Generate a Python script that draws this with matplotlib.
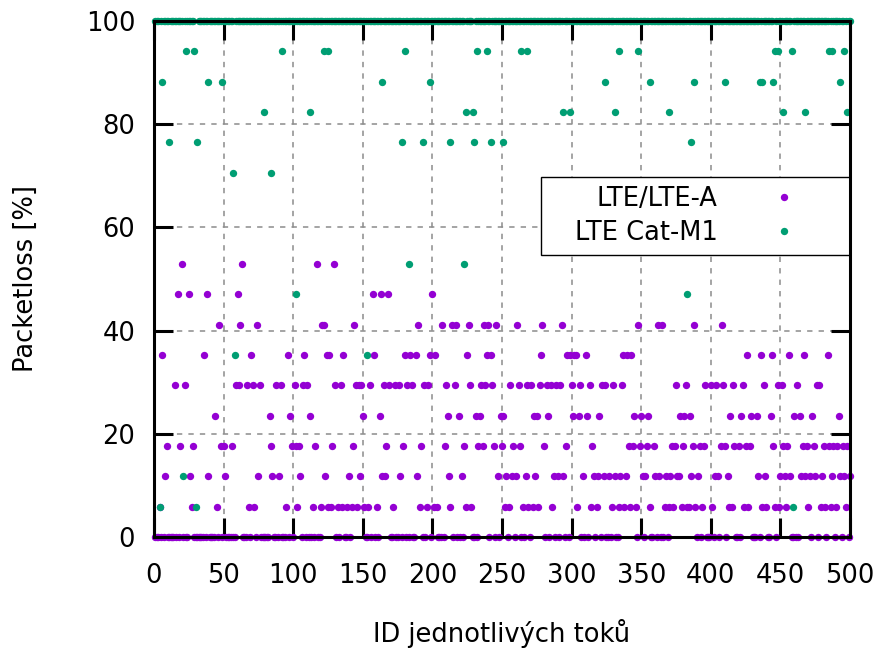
import matplotlib
matplotlib.use('Agg')
import matplotlib.pyplot as plt
import numpy as np
from matplotlib.patches import Rectangle

flow_ids = np.arange(1, 501)

# LTE/LTE-A: flows with non-zero packet loss, grouped by loss level [%]
# (all other flows lost 0 %)
lte_5_88 = [4, 27, 45, 68, 72, 95, 103, 114, 120, 125, 127, 132, 135, 139, 142, 146, 151, 154, 160,
            172, 191, 196, 201, 203, 213, 224, 228, 252, 255, 265, 269, 272, 276, 286, 304, 314, 318,
            329, 334, 338, 342, 346, 356, 367, 370, 373, 379, 383, 384, 389, 394, 401, 413, 415, 424,
            427, 437, 440, 446, 449, 454, 470, 479, 482, 486, 490, 497]
lte_11_76 = [8, 26, 39, 51, 75, 85, 90, 105, 123, 140, 148, 164, 166, 177, 189, 212, 221, 247, 253,
             257, 260, 267, 274, 287, 290, 294, 308, 316, 319, 323, 327, 331, 335, 339, 351, 353, 360,
             363, 368, 371, 376, 377, 386, 391, 403, 405, 412, 434, 439, 450, 453, 457, 465, 468, 471,
             475, 480, 487, 493, 496, 500]
lte_17_65 = [9, 19, 28, 48, 50, 56, 84, 99, 102, 104, 116, 128, 143, 167, 179, 192, 209, 223, 233,
             236, 244, 250, 258, 263, 280, 296, 315, 341, 344, 349, 354, 359, 372, 374, 380, 387, 392,
             395, 407, 410, 417, 420, 425, 428, 445, 452, 455, 466, 469, 474, 481, 485, 488, 491, 495,
             498]
lte_23_53 = [44, 83, 98, 112, 150, 162, 211, 219, 231, 234, 249, 251, 273, 275, 283, 301, 305, 311,
             320, 345, 350, 355, 378, 381, 385, 414, 422, 429, 433, 443, 460, 464, 473, 492]
lte_29_41 = [15, 22, 59, 61, 67, 71, 76, 88, 91, 101, 107, 110, 130, 134, 145, 147, 149, 155, 165,
             169, 173, 176, 182, 185, 194, 197, 210, 216, 227, 235, 238, 243, 256, 262, 268, 271, 277,
             282, 285, 289, 292, 300, 306, 313, 322, 324, 330, 336, 375, 382, 396, 400, 404, 409, 416,
             423, 438, 448, 451, 462, 476, 478]
lte_35_29 = [6, 36, 70, 96, 108, 124, 126, 136, 158, 180, 184, 188, 198, 202, 225, 239, 242, 278,
             297, 299, 302, 303, 310, 337, 340, 343, 426, 436, 444, 456, 467, 484]
lte_41_18 = [47, 62, 74, 121, 122, 144, 190, 207, 214, 217, 226, 237, 240, 246, 261, 279, 293, 348,
             362, 365, 388, 408]
lte_47_06 = [17, 25, 38, 60, 157, 163, 168, 200]
lte_52_94 = [20, 63, 117, 129]

lte_levels = [5.88, 11.76, 17.65, 23.53, 29.41, 35.29, 41.18, 47.06, 52.94]
lte_groups = [lte_5_88, lte_11_76, lte_17_65, lte_23_53, lte_29_41,
              lte_35_29, lte_41_18, lte_47_06, lte_52_94]

# LTE Cat-M1: flows below 100 % packet loss (all other flows lost 100 %)
m1_5_88 = [4, 30, 459]
m1_11_76 = [21]
m1_35_29 = [58, 153]
m1_47_06 = [102, 383]
m1_52_94 = [183, 223]
m1_70_59 = [57, 84]
m1_76_47 = [11, 31, 178, 193, 213, 230, 242, 251, 386]
m1_82_35 = [79, 112, 224, 229, 294, 299, 331, 370, 452, 468, 498]
m1_88_24 = [6, 39, 49, 164, 198, 324, 356, 388, 410, 435, 437, 445, 493]
m1_94_12 = [23, 29, 92, 122, 125, 180, 232, 239, 264, 268, 334, 348, 446, 448, 458, 485, 487, 496]

m1_levels = [5.88, 11.76, 35.29, 47.06, 52.94, 70.59, 76.47, 82.35, 88.24, 94.12]
m1_groups = [m1_5_88, m1_11_76, m1_35_29, m1_47_06, m1_52_94,
             m1_70_59, m1_76_47, m1_82_35, m1_88_24, m1_94_12]

lte_loss = np.zeros(len(flow_ids))
for level, ids in zip(lte_levels, lte_groups):
    lte_loss[np.array(ids) - 1] = level

m1_loss = np.full(len(flow_ids), 100.0)
for level, ids in zip(m1_levels, m1_groups):
    m1_loss[np.array(ids) - 1] = level

purple = '#9400d3'
green = '#009e73'

plt.rcParams['font.family'] = 'DejaVu Sans'
plt.rcParams['font.size'] = 18.5

fig = plt.figure(figsize=(8.78, 6.53), dpi=100)
ax = fig.add_axes([154 / 878, 116 / 653, 696 / 878, 516 / 653])

ax.scatter(flow_ids, lte_loss, s=28, c=purple, linewidths=0, clip_on=False, zorder=2,
           label='LTE/LTE-A')
ax.scatter(flow_ids, m1_loss, s=28, c=green, linewidths=0, clip_on=False, zorder=2,
           label='LTE Cat-M1')

ax.set_xlim(0, 500)
ax.set_ylim(0, 100)
ax.set_xticks(np.arange(0, 501, 50))
ax.set_yticks(np.arange(0, 101, 20))

ax.set_axisbelow(True)
ax.grid(True, color='#8c8c8c', lw=1.1, linestyle=(0, (3.5, 4)))
for sp in ax.spines.values():
    sp.set_linewidth(2.2)
ax.tick_params(direction='in', length=14, width=2.2, top=True, right=True)
ax.tick_params(axis='x', pad=18.5)
ax.tick_params(axis='y', pad=13.5)

ax.set_xlabel('ID jednotlivých toků')
ax.xaxis.set_label_coords(0.5, -0.158)
ax.set_ylabel('Packetloss [%]')
ax.yaxis.set_label_coords(-0.166, 0.5)

# legend frame (sits under the border ticks like gnuplot's key box)
ax.add_patch(Rectangle((0.556, 0.5465), 0.444, 0.1512, transform=ax.transAxes,
                       facecolor='white', edgecolor='black', lw=1.0, zorder=2.4, clip_on=False))
ax.legend(loc='center right', bbox_to_anchor=(0.9425, 0.622), frameon=False, markerfirst=False,
          borderpad=0, borderaxespad=0, handlelength=2, handletextpad=1.6, labelspacing=0.32,
          scatterpoints=1, scatteryoffsets=[0.5], fontsize=18.5)

fig.savefig('out.png', dpi=100)
